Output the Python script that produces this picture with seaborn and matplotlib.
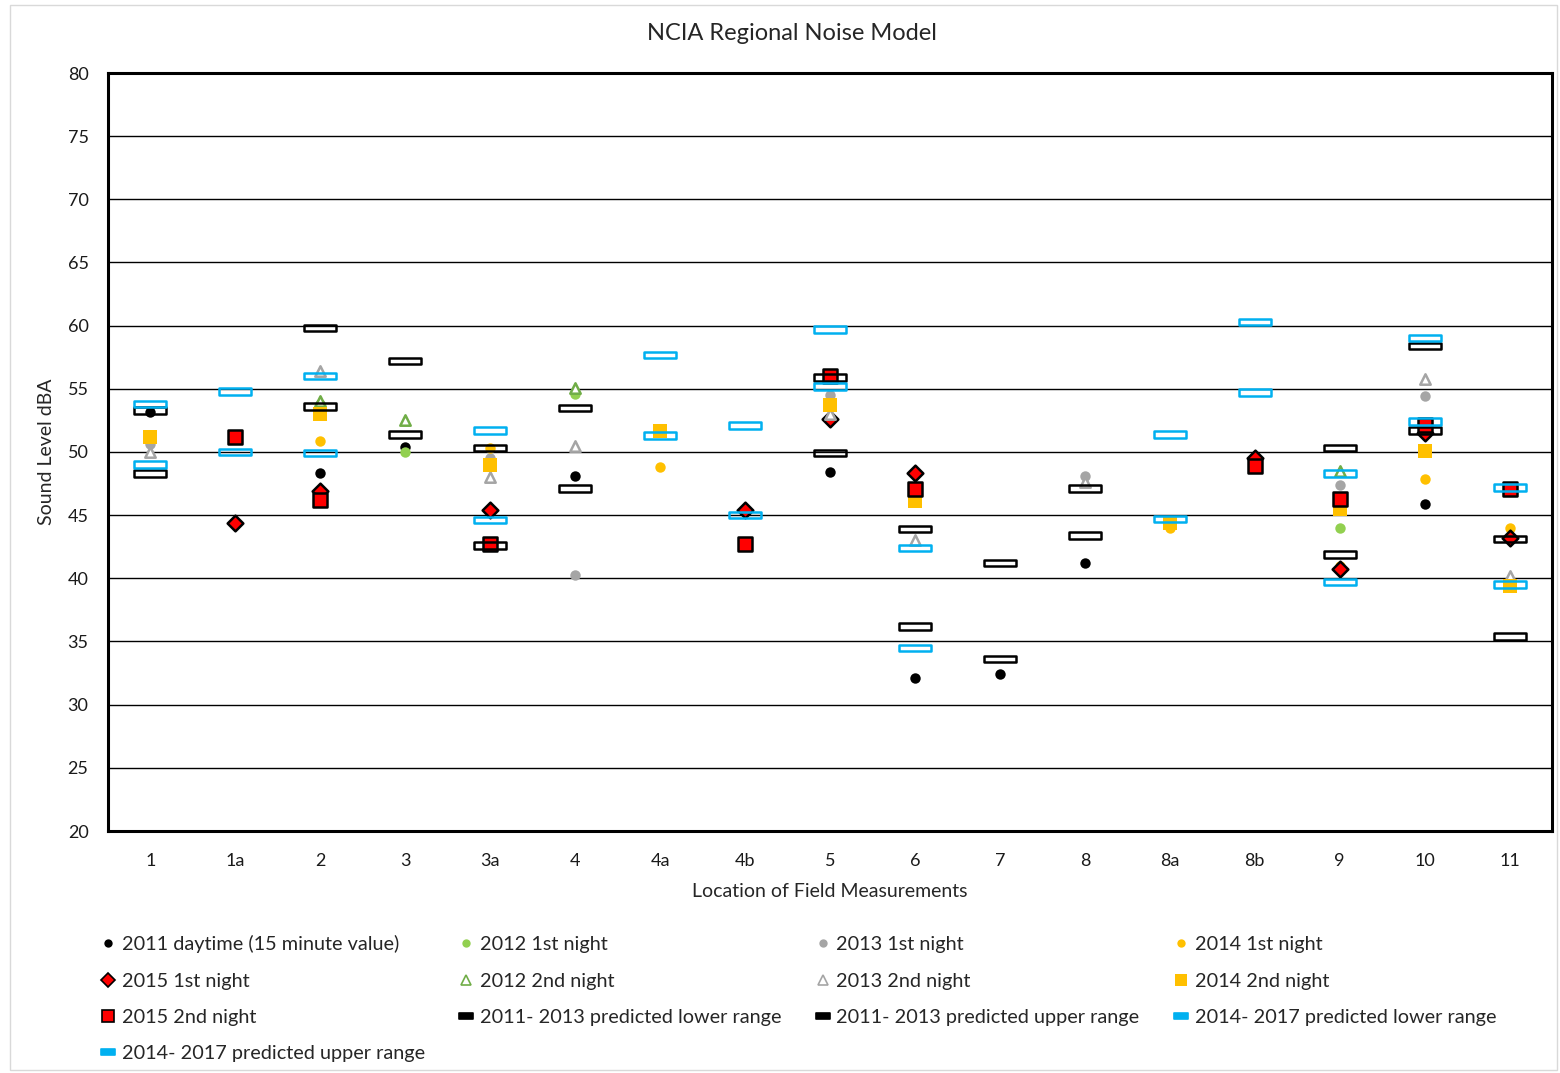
import numpy as np
import pandas as pd
import matplotlib
matplotlib.use("Agg")
import matplotlib.pyplot as plt
from matplotlib.lines import Line2D
from matplotlib.path import Path
from matplotlib.patches import Rectangle
import seaborn as sns

# --- DATA ---
nan = np.nan
locations = ["1", "1a", "2", "3", "3a", "4", "4a", "4b", "5", "6", "7", "8", "8a", "8b", "9", "10", "11"]

day_2011 = [53.2, nan, 48.3, 50.4, nan, 48.1, nan, nan, 48.4, 32.1, 32.4, 41.2, nan, nan, nan, 45.9, nan]
night1_2012 = [nan, nan, nan, 50.0, nan, 54.6, nan, nan, nan, nan, nan, nan, nan, nan, 44.0, nan, nan]
night1_2013 = [50.6, nan, 53.8, nan, 49.5, 40.3, nan, nan, 54.5, nan, nan, 48.1, nan, nan, 47.4, 54.4, nan]
night1_2014 = [nan, nan, 50.9, nan, 50.3, nan, 48.8, nan, nan, nan, nan, nan, 44.0, nan, 41.0, 47.9, 44.0]
night1_2015 = [nan, 44.4, 46.9, nan, 45.4, nan, nan, 45.4, 52.6, 48.3, nan, nan, nan, 49.5, 40.7, 51.5, 43.2]
night2_2012 = [nan, nan, 54.0, 52.5, nan, 55.1, nan, nan, nan, nan, nan, nan, nan, nan, 48.5, nan, nan]
night2_2013 = [50.0, nan, 56.4, nan, 48.0, 50.5, nan, nan, 53.0, 43.0, nan, 47.6, nan, nan, nan, 55.8, 40.2]
night2_2014 = [51.2, nan, 53.0, nan, 49.0, nan, 51.7, nan, 53.7, 46.1, nan, nan, 44.4, nan, 45.5, 50.1, 39.4]
night2_2015 = [nan, 51.2, 46.2, nan, 42.7, nan, nan, 42.7, 56.0, 47.1, nan, nan, nan, 48.9, 46.3, 52.1, 47.1]
lower_2011_2013 = [48.3, nan, 53.6, 51.4, 42.6, 47.1, nan, nan, 49.9, 36.2, 33.6, 43.4, nan, nan, 41.9, 51.7, 35.4]
upper_2011_2013 = [53.3, nan, 59.8, 57.2, 50.3, 53.5, nan, nan, 55.9, 43.9, 41.2, 47.1, nan, nan, 50.3, 58.4, 43.1]
lower_2014_2017 = [49.0, 50.0, 49.9, nan, 44.6, nan, 51.3, 45.0, 55.2, 34.5, nan, nan, 44.7, 54.7, 39.7, 52.4, 39.5]
upper_2014_2017 = [53.8, 54.8, 56.0, nan, 51.7, nan, 57.7, 52.1, 59.7, 42.4, nan, nan, 51.4, 60.3, 48.3, 59.0, 47.2]

df = pd.DataFrame({
    "location": locations,
    "2011 daytime (15 minute value)": day_2011,
    "2012 1st night": night1_2012,
    "2013 1st night": night1_2013,
    "2014 1st night": night1_2014,
    "2015 1st night": night1_2015,
    "2012 2nd night": night2_2012,
    "2013 2nd night": night2_2013,
    "2014 2nd night": night2_2014,
    "2015 2nd night": night2_2015,
    "2011- 2013 predicted lower range": lower_2011_2013,
    "2011- 2013 predicted upper range": upper_2011_2013,
    "2014- 2017 predicted lower range": lower_2014_2017,
    "2014- 2017 predicted upper range": upper_2014_2017,
})

BLACK = "#000000"
GREEN = "#92D050"
GREEN_D = "#70AD47"
GRAY = "#A5A5A5"
GOLD = "#FFC000"
RED = "#FF0000"
BLUE = "#00B0F0"

bar = Path([(-1, -0.2), (1, -0.2), (1, 0.2), (-1, 0.2), (-1, -0.2)],
           [Path.MOVETO, Path.LINETO, Path.LINETO, Path.LINETO, Path.CLOSEPOLY])
bar_leg = Path([(-1, -0.45), (1, -0.45), (1, 0.45), (-1, 0.45), (-1, -0.45)],
               [Path.MOVETO, Path.LINETO, Path.LINETO, Path.LINETO, Path.CLOSEPOLY])

# name: (marker, face, edge, size, lw, legend marker, legend size)
styles = {
    "2011 daytime (15 minute value)": ("o", BLACK, BLACK, 7.5, 0, "o", 6),
    "2012 1st night": ("o", GREEN, GREEN, 7.5, 0, "o", 6),
    "2013 1st night": ("o", GRAY, GRAY, 7.5, 0, "o", 6),
    "2014 1st night": ("o", GOLD, GOLD, 7.5, 0, "o", 6),
    "2015 1st night": ("D", RED, BLACK, 8, 1.8, "D", 7),
    "2012 2nd night": ("^", "white", GREEN_D, 7.5, 1.8, "^", 6.5),
    "2013 2nd night": ("^", "white", GRAY, 7.5, 1.8, "^", 6.5),
    "2014 2nd night": ("s", GOLD, GOLD, 9.5, 0, "s", 8.5),
    "2015 2nd night": ("s", RED, BLACK, 10, 1.8, "s", 8.5),
    "2011- 2013 predicted lower range": (bar, "none", BLACK, 23, 1.8, bar_leg, 10),
    "2011- 2013 predicted upper range": (bar, "none", BLACK, 23, 1.8, bar_leg, 10),
    "2014- 2017 predicted lower range": (bar, "none", BLUE, 23, 1.8, bar_leg, 10),
    "2014- 2017 predicted upper range": (bar, "none", BLUE, 23, 1.8, bar_leg, 10),
}

# --- PLOT ---
sns.set_theme(style="white")
plt.rcParams["font.family"] = ["Lato", "DejaVu Sans"]

fig = plt.figure(figsize=(15.6, 10.73), dpi=100)
ax = fig.add_axes([108 / 1560, 1 - 831 / 1073, (1552 - 108) / 1560, (831 - 73) / 1073])

handles = []
for i, (name, (mk, fc, ec, sz, lw, lmk, lsz)) in enumerate(styles.items()):
    sns.stripplot(data=df, x="location", y=name, order=locations, jitter=False,
                  marker=mk, size=sz, color=ec, facecolor=fc, edgecolor=ec,
                  linewidth=lw, zorder=3 + i, ax=ax)
    handles.append(Line2D([], [], linestyle="none", marker=lmk, markersize=lsz,
                          markerfacecolor=(ec if fc == "none" else fc),
                          markeredgecolor=ec, markeredgewidth=(1.2 if lw else 0),
                          label=name))

ax.set_ylim(20, 80)
ax.set_yticks(range(20, 81, 5))
ax.yaxis.grid(True, color="black", linewidth=1)
ax.set_axisbelow(True)
for sp in ax.spines.values():
    sp.set_color("black")
    sp.set_linewidth(2.2)
ax.tick_params(axis="both", length=0, labelsize=13, colors="#1a1a1a")
ax.tick_params(axis="x", pad=16)
ax.tick_params(axis="y", pad=14)
ax.set_xlabel("Location of Field Measurements", fontsize=14, labelpad=10)
ax.set_ylabel("Sound Level dBA", fontsize=14, labelpad=9)

fig.text(792 / 1560, 1 - 33 / 1073, "NCIA Regional Noise Model", ha="center", va="center",
         fontsize=17)

# legend: row-major order as in the reference, 4 columns
order = [0, 4, 8, 12, 1, 5, 9, 2, 6, 10, 3, 7, 11]
fig.legend([handles[k] for k in order], [handles[k].get_label() for k in order],
           ncol=4, loc="upper left", bbox_to_anchor=(92 / 1560, 1 - 938 / 1073, 1412 / 1560, 0.01),
           mode="expand", frameon=False, fontsize=14.3, handlelength=0.8,
           handletextpad=0.3, labelspacing=0.97, borderaxespad=0)

fig.add_artist(Rectangle((10 / 1560, 3 / 1073), 1547 / 1560, 1065 / 1073,
                         transform=fig.transFigure, fill=False, edgecolor="#D9D9D9",
                         linewidth=1))

fig.savefig("out.png", dpi=100, facecolor="white")
